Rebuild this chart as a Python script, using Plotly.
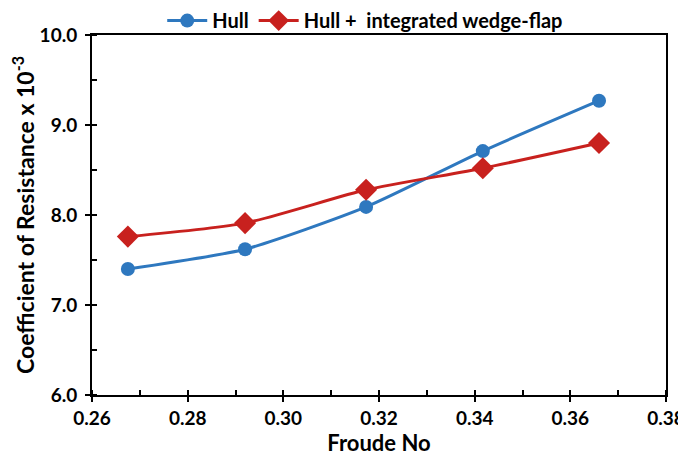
import plotly.graph_objects as go

# Froude numbers and resistance coefficients (x 10^-3)
froude = [0.2675, 0.2920, 0.3173, 0.3417, 0.3660]
cr_hull = [7.40, 7.62, 8.09, 8.71, 9.27]
cr_hull_flap = [7.76, 7.91, 8.28, 8.52, 8.80]

x_ticks = [0.26, 0.28, 0.30, 0.32, 0.34, 0.36, 0.38]
y_ticks = [6.0, 7.0, 8.0, 9.0, 10.0]

BLUE = "#2E78BF"
RED = "#C8211E"
FONT = "Lato, Roboto, Arial, sans-serif"

fig = go.Figure()
fig.add_trace(go.Scatter(
    x=froude, y=cr_hull, name="Hull", mode="lines+markers",
    line=dict(color=BLUE, width=3, shape="spline", smoothing=0.6),
    marker=dict(symbol="circle", size=14, color=BLUE),
))
fig.add_trace(go.Scatter(
    x=froude, y=cr_hull_flap, name="Hull +  integrated wedge-flap",
    mode="lines+markers",
    line=dict(color=RED, width=3, shape="spline", smoothing=0.6),
    marker=dict(symbol="diamond", size=17, color=RED),
))

axis_common = dict(
    showgrid=False, zeroline=False, showline=True, linecolor="black",
    linewidth=2, mirror=True, ticks="outside", ticklen=5, tickwidth=2,
    tickcolor="black",
    tickfont=dict(family=FONT, size=19, color="black", weight="bold"),
)

fig.update_xaxes(
    range=[0.26, 0.38], tickvals=x_ticks,
    ticktext=[f"{v:.2f}" for v in x_ticks],
    minor=dict(ticks="inside", dtick=0.01, ticklen=5, tickwidth=2,
               tickcolor="black"),
    title=dict(text="Froude No", standoff=6,
               font=dict(family=FONT, size=22, color="black", weight="bold")),
    **axis_common,
)
fig.update_yaxes(
    range=[6.0, 10.0], tickvals=y_ticks,
    ticktext=[f"{v:.1f}" for v in y_ticks],
    minor=dict(ticks="inside", dtick=0.5, ticklen=5, tickwidth=2,
               tickcolor="black"),
    ticklabelstandoff=4,
    title=dict(text="Coefficient of Resistance x 10<sup>-3</sup>", standoff=0,
               font=dict(family=FONT, size=23, color="black", weight="bold")),
    **axis_common,
)

# inner half of the major ticks, so they cross the axis lines
fig.update_layout(
    xaxis2=dict(overlaying="x", matches="x", range=[0.26, 0.38],
                tickvals=x_ticks, showticklabels=False, ticks="inside",
                ticklen=5, tickwidth=2, tickcolor="black", showgrid=False,
                zeroline=False, showline=False),
    yaxis2=dict(overlaying="y", matches="y", range=[6.0, 10.0],
                tickvals=y_ticks, showticklabels=False, ticks="inside",
                ticklen=5, tickwidth=2, tickcolor="black", showgrid=False,
                zeroline=False, showline=False),
)
fig.add_trace(go.Scatter(x=[], y=[], xaxis="x2", yaxis="y2",
                         showlegend=False, hoverinfo="skip"))

# the page body adds an 8px offset, so margins are shifted to compensate
fig.update_layout(
    width=686, height=460,
    margin=dict(l=84, r=28, t=27, b=73, autoexpand=False),
    paper_bgcolor="white", plot_bgcolor="white",
    font=dict(family=FONT, color="black"),
    legend=dict(
        orientation="h", x=0.476, xanchor="center", y=1.04, yanchor="middle",
        font=dict(family=FONT, size=20, color="black", weight="bold"),
        itemwidth=40, traceorder="normal",
        bgcolor="rgba(0,0,0,0)",
    ),
    showlegend=True,
)

fig.write_html("out.html")
